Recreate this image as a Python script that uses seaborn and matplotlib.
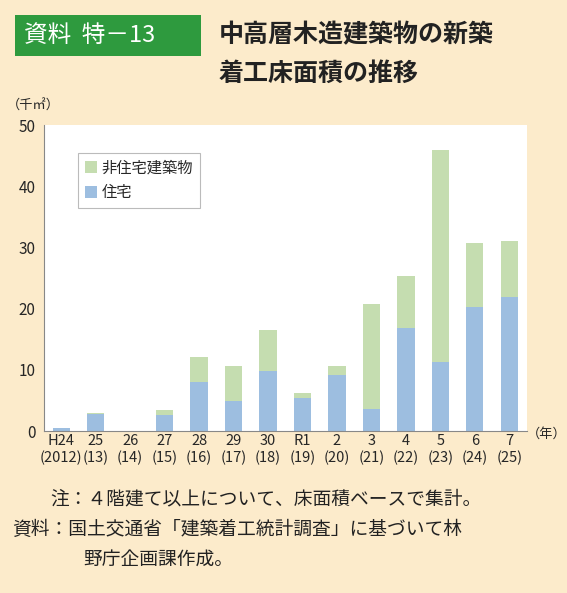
import matplotlib
matplotlib.use("Agg")
import matplotlib.pyplot as plt
import seaborn as sns
import numpy as np
import pandas as pd

sns.set_style("white")
plt.rcParams['font.family'] = ['Noto Sans CJK JP', 'DejaVu Sans']

labels = ["H24\n(2012)", "25\n(13)", "26\n(14)", "27\n(15)", "28\n(16)", "29\n(17)", "30\n(18)",
          "R1\n(19)", "2\n(20)", "3\n(21)", "4\n(22)", "5\n(23)", "6\n(24)", "7\n(25)"]
housing = [0.5, 2.8, 0.05, 2.6, 8.1, 4.9, 9.8, 5.4, 9.1, 3.6, 16.9, 11.3, 20.3, 21.9]
total = [0.5, 2.9, 0.05, 3.4, 12.1, 10.6, 16.5, 6.2, 10.7, 20.8, 25.4, 46.0, 30.7, 31.0]

bg = "#FCEBCB"
fig = plt.figure(figsize=(5.67, 5.93), dpi=100, facecolor=bg)
ax = fig.add_axes([0.0776, 0.273, 0.851, 0.516])
ax.set_facecolor("white")

df = pd.DataFrame({"label": labels, "housing": housing, "total": total})
sns.barplot(data=df, x="label", y="total", color="#C5DDB0", width=0.5, ax=ax,
            label="非住宅建築物", saturation=1, edgecolor="none")
sns.barplot(data=df, x="label", y="housing", color="#9DBEE0", width=0.5, ax=ax,
            label="住宅", saturation=1, edgecolor="none")

ax.set_ylim(0, 50)
ax.set_xlim(-0.5, len(labels) - 0.5)
ax.set_yticks(range(0, 51, 10))
ax.set_xlabel("")
ax.set_ylabel("")
ax.tick_params(axis="y", length=4, color="#888888", labelsize=11, pad=2)
ax.tick_params(axis="x", length=0, labelsize=10.5, pad=2)
ax.set_xticks(np.arange(-0.5, len(labels), 1.0), minor=True)
ax.tick_params(axis="x", which="minor", length=4, color="#888888", direction="in")
for s in ["top", "right"]:
    ax.spines[s].set_visible(False)
for s in ["left", "bottom"]:
    ax.spines[s].set_color("#888888")
    ax.spines[s].set_linewidth(0.8)

h, l = ax.get_legend_handles_labels()
leg = ax.legend(h, l, loc="upper left", bbox_to_anchor=(0.055, 0.935), fontsize=11,
                frameon=True, fancybox=False, edgecolor="#aaaaaa", handlelength=0.8,
                handleheight=0.8, handletextpad=0.3, borderpad=0.45, labelspacing=0.5)
leg.get_frame().set_linewidth(0.8)

fig.text(0.012, 0.815, "（千㎡）", fontsize=9.5)
fig.text(0.93, 0.262, "（年）", fontsize=9.5)

# title
fig.patches.append(plt.Rectangle((0.026, 0.906), 0.328, 0.068, transform=fig.transFigure,
                                 facecolor="#2E9A3E", edgecolor="none"))
fig.text(0.042, 0.940, "資料  特－13", fontsize=17, color="white", va="center")
fig.text(0.385, 0.940, "中高層木造建築物の新築", fontsize=18, color="#222222", va="center", fontweight="bold")
fig.text(0.385, 0.875, "着工床面積の推移", fontsize=18, color="#222222", va="center", fontweight="bold")

fig.text(0.088, 0.150, "注：４階建て以上について、床面積ベースで集計。", fontsize=13.5, color="#222222")
fig.text(0.022, 0.098, "資料：国土交通省「建築着工統計調査」に基づいて林", fontsize=13.5, color="#222222")
fig.text(0.146, 0.048, "野庁企画課作成。", fontsize=13.5, color="#222222")

fig.savefig("out.png", dpi=100, facecolor=bg)
